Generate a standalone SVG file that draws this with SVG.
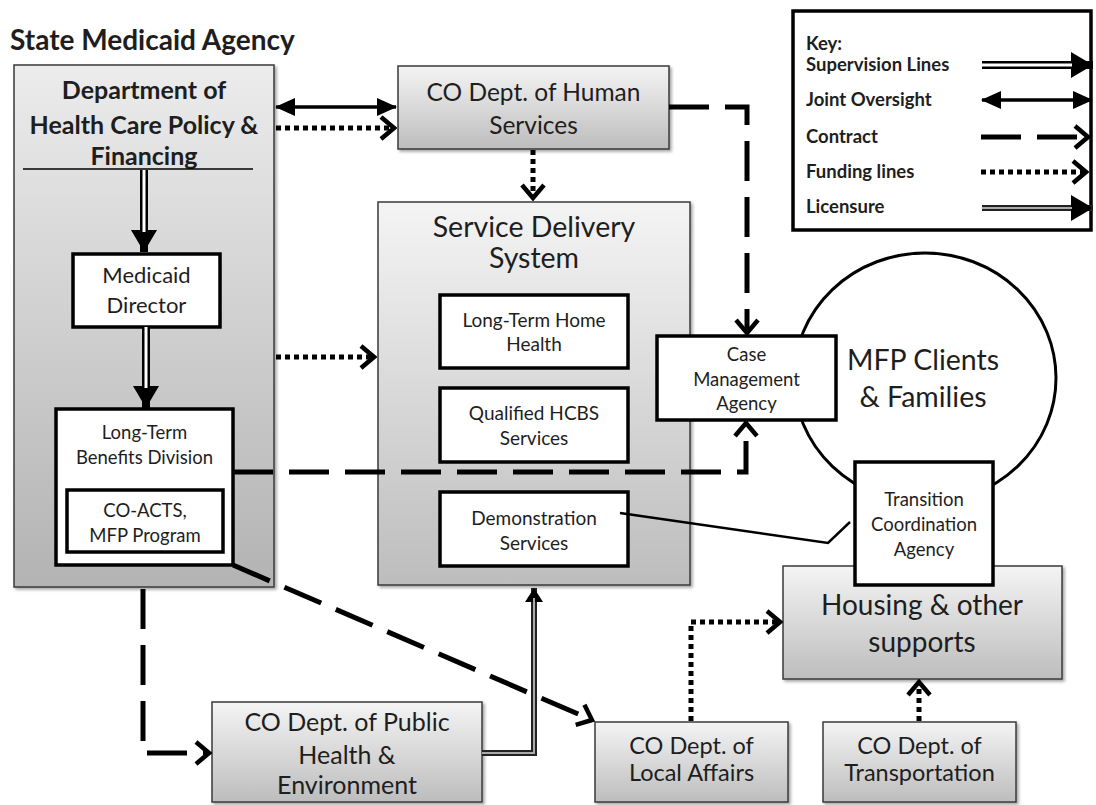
<svg xmlns="http://www.w3.org/2000/svg" width="1096" height="805" viewBox="0 0 1096 805">
<style>
text{font-family:Lato,"Open Sans","Liberation Sans",sans-serif;fill:#1e1e1e;text-anchor:middle}
.b{font-weight:bold}
.gbox{stroke:#3a3a3a;stroke-width:1.5;filter:url(#sh)}
.wbox{fill:#fff;stroke:#000;stroke-width:3.5}
.sup{fill:none;stroke:#000;stroke-width:8}
.supi{fill:none;stroke:#fff;stroke-width:3}
.joint{fill:none;stroke:#000;stroke-width:3.5;marker-start:url(#tri);marker-end:url(#tri)}
.con{fill:none;stroke:#000;stroke-width:5;stroke-dasharray:40 16;marker-end:url(#chev)}
.fund{fill:none;stroke:#000;stroke-width:5;stroke-dasharray:5 4;marker-end:url(#chev)}
.lic{fill:none;stroke:#222;stroke-width:6}
.lici{fill:none;stroke:#aaa;stroke-width:2}
.kt{text-anchor:start;font-weight:bold;font-size:18.5px}
</style>
<defs>
<linearGradient id="g1" x1="0" y1="0" x2="0" y2="1"><stop offset="0" stop-color="#f4f4f4"/><stop offset="1" stop-color="#bdbdbd"/></linearGradient>
<linearGradient id="g2" x1="0" y1="0" x2="0" y2="1"><stop offset="0" stop-color="#ececec"/><stop offset="1" stop-color="#b3b3b3"/></linearGradient>
<filter id="sh" x="-5%" y="-5%" width="115%" height="115%"><feDropShadow dx="2" dy="2" stdDeviation="1.5" flood-color="#000" flood-opacity="0.35"/></filter>
<marker id="big" markerUnits="userSpaceOnUse" viewBox="0 0 22 26" refX="22" refY="13" markerWidth="22" markerHeight="26" orient="auto"><path d="M0,0 L22,13 L0,26 z" fill="#000"/></marker>
<marker id="small" markerUnits="userSpaceOnUse" viewBox="0 0 14 18" refX="14" refY="9" markerWidth="14" markerHeight="18" orient="auto"><path d="M0,0 L14,9 L0,18 z" fill="#000"/></marker>
<marker id="tri" markerUnits="userSpaceOnUse" viewBox="0 0 20 18" refX="19" refY="9" markerWidth="20" markerHeight="18" orient="auto-start-reverse"><path d="M0,0 L20,9 L0,18 z" fill="#000"/></marker>
<marker id="chev" markerUnits="userSpaceOnUse" viewBox="-2 -2 18 26" refX="13" refY="11" markerWidth="18" markerHeight="26" orient="auto"><path d="M0,0 L13,11 L0,22" fill="none" stroke="#000" stroke-width="4.5" stroke-dasharray="none"/></marker>
</defs>
<rect width="1096" height="805" fill="#fff"/>

<text class="b" x="10" y="50" style="text-anchor:start;font-size:28px">State Medicaid Agency</text>

<g id="dhcpf">
<rect class="gbox" x="14" y="65" width="260" height="522" fill="url(#g2)"/>
<text class="b" x="144" y="99" font-size="25">Department of</text>
<text class="b" x="144" y="134" font-size="25">Health Care Policy &amp;</text>
<text class="b" x="144" y="165" font-size="25">Financing</text>
<line x1="23" y1="169" x2="253" y2="169" stroke="#000" stroke-width="1.5"/>
</g>
<g id="medicaid-director">
<rect class="wbox" x="73" y="254" width="147" height="73"/>
<text x="146.5" y="283" font-size="22">Medicaid</text>
<text x="146.5" y="313" font-size="22">Director</text>
</g>
<g id="ltb">
<rect class="wbox" x="56" y="409" width="177" height="156"/>
<text x="144.5" y="439" font-size="18.5">Long-Term</text>
<text x="144.5" y="464" font-size="18.5">Benefits Division</text>
</g>
<g id="coacts">
<rect class="wbox" x="67" y="490" width="156" height="62"/>
<text x="145" y="517" font-size="18.5">CO-ACTS,</text>
<text x="145" y="542" font-size="18.5">MFP Program</text>
</g>
<g id="human-services">
<rect class="gbox" x="398" y="66" width="271" height="83" fill="url(#g1)"/>
<text x="533.5" y="101" font-size="24.5">CO Dept. of Human</text>
<text x="533.5" y="134" font-size="24.5">Services</text>
</g>
<g id="sds">
<rect class="gbox" x="378" y="202" width="312" height="383" fill="url(#g1)"/>
<text x="534" y="237" font-size="28.5">Service Delivery</text>
<text x="534" y="268" font-size="28.5">System</text>
</g>
<g id="lthh">
<rect class="wbox" x="440" y="295" width="188" height="73"/>
<text x="534" y="327" font-size="19">Long-Term Home</text>
<text x="534" y="351" font-size="19">Health</text>
</g>
<g id="hcbs">
<rect class="wbox" x="440" y="388" width="188" height="74"/>
<text x="534" y="420" font-size="19">Qualified HCBS</text>
<text x="534" y="445" font-size="19">Services</text>
</g>
<g id="demo">
<rect class="wbox" x="440" y="492" width="188" height="74"/>
<text x="534" y="525" font-size="19">Demonstration</text>
<text x="534" y="550" font-size="19">Services</text>
</g>
<g id="mfp">
<ellipse cx="925" cy="378" rx="131" ry="125" fill="#fff" stroke="#000" stroke-width="3"/>
<text x="923" y="370" font-size="28.5">MFP Clients</text>
<text x="923" y="407" font-size="28.5">&amp; Families</text>
</g>
<g id="case-mgmt">
<rect class="wbox" x="657" y="336" width="179" height="84"/>
<text x="746.5" y="361" font-size="18.5">Case</text>
<text x="746.5" y="386" font-size="18.5">Management</text>
<text x="746.5" y="410" font-size="18.5">Agency</text>
</g>
<g id="housing">
<rect class="gbox" x="783" y="566" width="279" height="113" fill="url(#g1)"/>
<text x="922" y="615" font-size="28">Housing &amp; other</text>
<text x="922" y="652" font-size="28">supports</text>
</g>
<g id="tca">
<rect class="wbox" x="855" y="462" width="138" height="123"/>
<text x="924" y="506" font-size="18.5">Transition</text>
<text x="924" y="531" font-size="18.5">Coordination</text>
<text x="924" y="556" font-size="18.5">Agency</text>
</g>
<g id="public-health">
<rect class="gbox" x="212" y="702" width="270" height="100" fill="url(#g1)"/>
<text x="347" y="731" font-size="25">CO Dept. of Public</text>
<text x="347" y="764" font-size="25">Health &amp;</text>
<text x="347" y="794" font-size="25">Environment</text>
</g>
<g id="local-affairs">
<rect class="gbox" x="595" y="722" width="193" height="80" fill="url(#g1)"/>
<text x="691.5" y="754" font-size="23.5">CO Dept. of</text>
<text x="691.5" y="781" font-size="23.5">Local Affairs</text>
</g>
<g id="transportation">
<rect class="gbox" x="823" y="722" width="193" height="80" fill="url(#g1)"/>
<text x="919.5" y="754" font-size="23.5">CO Dept. of</text>
<text x="919.5" y="781" font-size="23.5">Transportation</text>
</g>

<g id="connectors">
<path class="sup" d="M144,170 V252" marker-end="url(#big)"/>
<path class="supi" d="M144,170 V232"/>
<path class="sup" d="M146,327 V408" marker-end="url(#big)"/>
<path class="supi" d="M146,327 V388"/>
<path class="joint" d="M276,107 H396"/>
<path class="fund" d="M276,128 H394"/>
<path class="fund" d="M533,150 V198"/>
<path class="fund" d="M276,357 H374"/>
<path class="con" d="M669,107 H747 V333"/>
<path class="con" d="M233,472 H746 V423"/>
<path class="con" d="M143,589 V753 H209"/>
<path class="con" d="M233,565 L592,720"/>
<path class="lic" d="M482,753 H534 V588" marker-end="url(#small)"/>
<path class="lici" d="M482,753 H534 V598"/>
<path class="fund" d="M691,721 V622 H780"/>
<path class="fund" d="M919,721 V682"/>
<path d="M620,513 L828,543 L850,522" fill="none" stroke="#000" stroke-width="2.5"/>
</g>

<g id="key">
<rect x="793" y="11" width="298" height="219" fill="#fff" stroke="#000" stroke-width="3.5"/>
<text class="kt" x="806" y="50">Key:</text>
<text class="kt" x="806" y="71">Supervision Lines</text>
<text class="kt" x="806" y="106">Joint Oversight</text>
<text class="kt" x="806" y="143">Contract</text>
<text class="kt" x="806" y="178">Funding lines</text>
<text class="kt" x="806" y="213">Licensure</text>
<path class="sup" d="M982,65 H1093" stroke-width="7" marker-end="url(#big)"/>
<path class="supi" d="M982,65 H1072" stroke-width="2"/>
<path class="joint" d="M982,100 H1092"/>
<path class="con" d="M981,137 H1088"/>
<path class="fund" d="M981,172 H1086"/>
<path class="lic" d="M982,208 H1093" marker-end="url(#big)"/>
<path class="lici" d="M982,208 H1072"/>
</g>
</svg>
